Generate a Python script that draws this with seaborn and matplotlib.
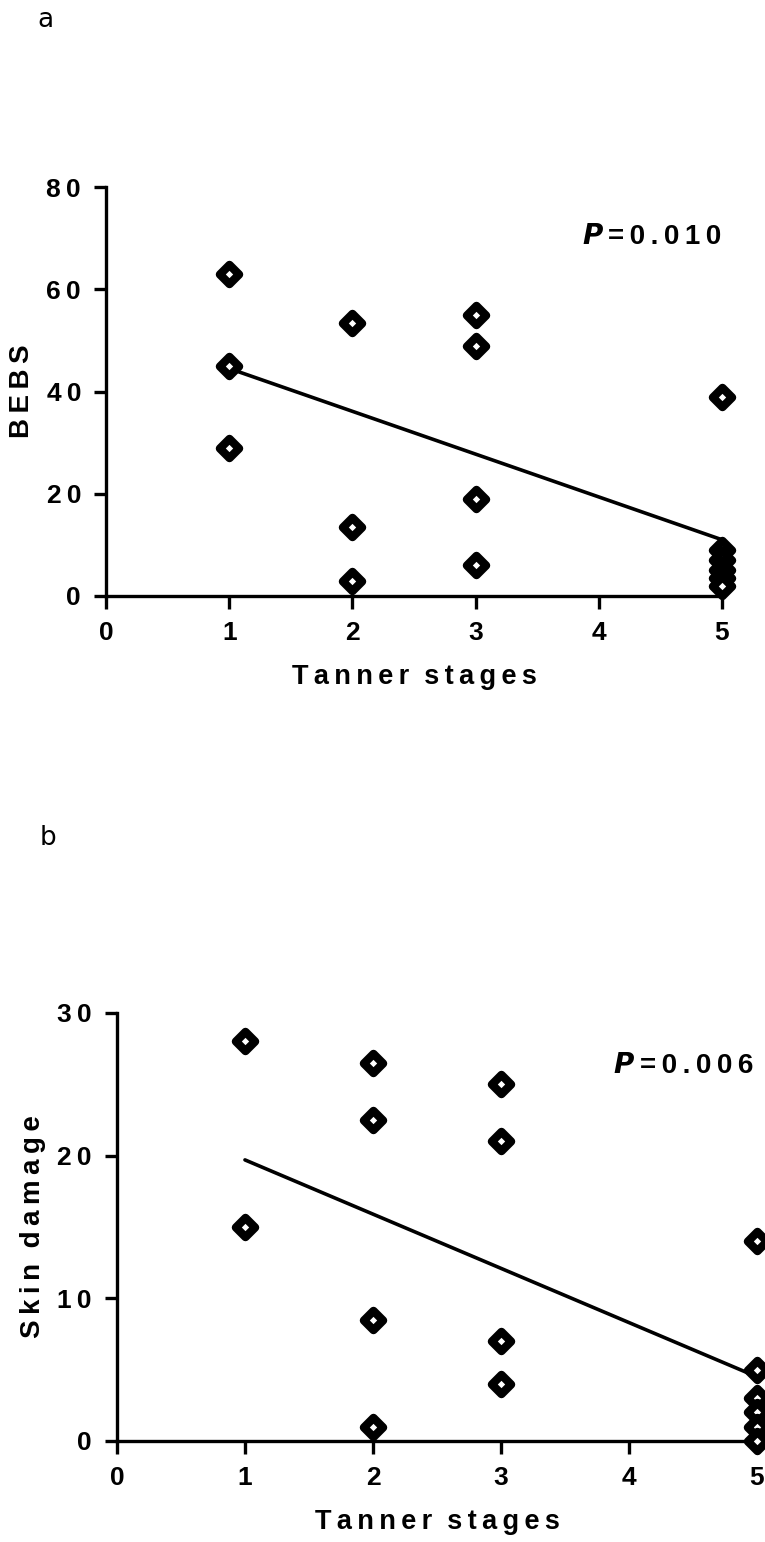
import numpy as np
import pandas as pd
import matplotlib
matplotlib.use("Agg")
import matplotlib.pyplot as plt
import seaborn as sns

# data
tanner_a = [1, 1, 1, 2, 2, 2, 3, 3, 3, 3, 5, 5, 5, 5, 5, 5]
bebs = [63, 45, 29, 53.5, 13.5, 3, 55, 49, 19, 6, 39, 9, 7, 5, 3.5, 2]
fit_x_a = [1, 5]
fit_y_a = [44.5, 11]

tanner_b = [1, 1, 2, 2, 2, 2, 3, 3, 3, 3, 5, 5, 5, 5, 5, 5]
skin = [28, 15, 26.5, 22.5, 8.5, 1, 25, 21, 7, 4, 14, 5, 3, 2, 1, 0]
fit_x_b = [1, 5]
fit_y_b = [19.7, 4.5]

xticks = [0, 1, 2, 3, 4, 5]

sns.set_style("ticks", {'axes.edgecolor': 'black', 'text.color': 'black',
                        'xtick.color': 'black', 'ytick.color': 'black',
                        'axes.labelcolor': 'black'})
plt.rcParams['font.family'] = ['Liberation Sans Narrow', 'Liberation Sans', 'DejaVu Sans']


def spaced(s, sep="\u2009"):
    return sep.join(s)


fig = plt.figure(figsize=(7.65, 15.42), dpi=100)
ax_a = fig.add_axes([0.1386, 0.6135, 0.8052, 0.2652])
ax_b = fig.add_axes([0.1529, 0.0655, 0.8366, 0.2776])


def panel(ax, x, y, fx, fy, ymax, ystep, ylabel, ptext, ppos):
    df = pd.DataFrame({'x': x, 'y': y})
    sns.lineplot(x=fx, y=fy, ax=ax, color='black', lw=2.6, zorder=3)
    sns.scatterplot(data=df, x='x', y='y', ax=ax, marker='D', s=95,
                    color='white', edgecolor='black', linewidth=6,
                    zorder=5, clip_on=False)
    ax.set_xlim(0, 5)
    ax.set_ylim(0, ymax)
    ax.set_xticks(xticks)
    ax.set_yticks(np.arange(0, ymax + 1, ystep))
    ax.set_xticklabels([spaced(str(t)) for t in xticks])
    ax.set_yticklabels([spaced(str(int(t))) for t in np.arange(0, ymax + 1, ystep)])
    sns.despine(ax=ax)
    for s in ['left', 'bottom']:
        ax.spines[s].set_linewidth(2.4)
    ax.tick_params(width=2.4, length=9, labelsize=19, pad=9)
    for lab in ax.get_xticklabels() + ax.get_yticklabels():
        lab.set_fontweight('bold')
    xl = spaced("Tanner") + "  " + spaced("stages")
    ax.set_xlabel(xl, fontsize=19.5, fontweight='bold', labelpad=14)
    ax.set_ylabel(ylabel, fontsize=20, fontweight='bold', labelpad=8)
    ax.text(ppos[0], ppos[1], "$\\mathbfit{P}$", transform=ax.transAxes,
            fontsize=20, ha='left', va='center')
    ax.text(ppos[0] + 0.042, ppos[1], spaced("=0.0" + ptext), transform=ax.transAxes,
            fontsize=20, fontweight='bold', ha='left', va='center')


panel(ax_a, tanner_a, bebs, fit_x_a, fit_y_a, 80, 20,
      spaced("BEBS"), "10", (0.773, 0.877))
panel(ax_b, tanner_b, skin, fit_x_b, fit_y_b, 30, 10,
      spaced("Skin") + "  " + spaced("damage"), "06", (0.775, 0.877))

fig.text(45 / 765, 1 - 20 / 1542, "a", fontsize=19, ha='center', va='center',
         family='DejaVu Sans')
fig.text(48 / 765, 1 - 838 / 1542, "b", fontsize=19, ha='center', va='center',
         family='DejaVu Sans')

fig.savefig("out.png", dpi=100)
